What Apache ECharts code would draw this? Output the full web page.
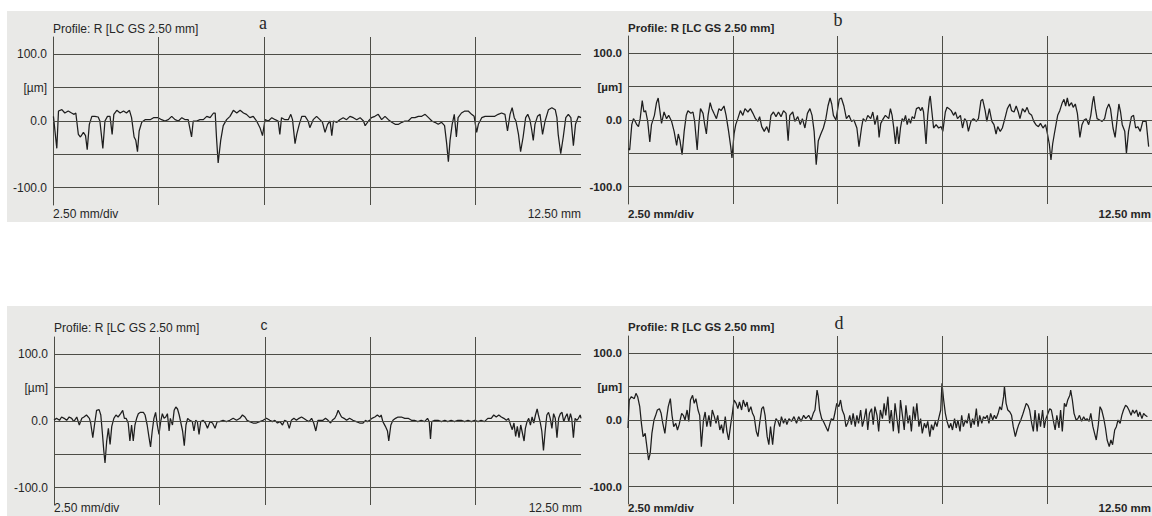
<!DOCTYPE html>
<html><head><meta charset="utf-8">
<script src="https://cdn.jsdelivr.net/npm/echarts@6/dist/echarts.min.js"></script>
<style>html,body{margin:0;padding:0;background:#ffffff}#c{width:1152px;height:516px}</style>
</head><body><div id="c"></div>
<script>
// ---- axis / tick definitions ----
const xRange = [0, 12.5];            // mm
const yRange = [-126, 126];          // µm
const yTickValues = [100, 50, 0, -100];
const yTickLabels = ['100.0', '[µm]', '0.0', '-100.0'];
const gridYValues = [100, 50, 0, -50, -100];
const gridXValues = [2.5, 5, 7.5, 10];
const panelLetters = ['a', 'b', 'c', 'd'];
const profileTitle = 'Profile: R [LC GS 2.50 mm]';
const scaleLeftLabel = '2.50 mm/div';
const scaleRightLabel = '12.50 mm';

// ---- profile data [mm, µm] ----
const profileA = [[0.01,7],[0.09,-41],[0.13,15],[0.21,17],[0.28,12],[0.36,15],[0.44,12],[0.50,10],[0.54,12],[0.60,-20],[0.65,-24],[0.72,-17],[0.77,-22],[0.81,-43],[0.86,-5],[0.92,7],[0.99,7],[1.07,6],[1.11,0],[1.18,-41],[1.23,0],[1.29,7],[1.35,7],[1.40,-20],[1.44,10],[1.51,16],[1.59,12],[1.67,15],[1.74,12],[1.81,16],[1.86,5],[1.92,-24],[1.96,-29],[2.00,-46],[2.04,-15],[2.10,-2],[2.18,2],[2.30,2],[2.38,5],[2.49,5],[2.57,2],[2.65,0],[2.73,2],[2.81,7],[2.89,2],[2.97,0],[3.05,5],[3.13,2],[3.20,2],[3.28,-24],[3.32,0],[3.40,0],[3.48,2],[3.56,2],[3.64,7],[3.72,5],[3.80,12],[3.84,12],[3.87,-24],[3.91,-63],[3.97,-29],[4.03,-7],[4.11,2],[4.19,7],[4.27,16],[4.35,12],[4.43,16],[4.51,12],[4.58,10],[4.66,5],[4.74,7],[4.82,0],[4.90,-10],[4.96,-22],[5.02,2],[5.10,0],[5.18,5],[5.26,2],[5.33,0],[5.37,-20],[5.41,5],[5.49,2],[5.57,2],[5.63,10],[5.67,2],[5.73,-34],[5.77,-20],[5.83,-5],[5.89,7],[5.97,7],[6.04,0],[6.08,-10],[6.16,2],[6.24,7],[6.32,2],[6.38,-2],[6.44,-17],[6.50,-5],[6.56,0],[6.60,-22],[6.64,0],[6.72,-2],[6.79,2],[6.87,5],[6.95,2],[7.03,7],[7.11,5],[7.19,2],[7.27,5],[7.35,0],[7.39,-7],[7.47,0],[7.54,5],[7.62,7],[7.70,10],[7.78,2],[7.86,7],[7.94,2],[8.02,-2],[8.10,-5],[8.18,-5],[8.26,-2],[8.33,0],[8.41,0],[8.49,5],[8.57,5],[8.65,7],[8.73,7],[8.81,10],[8.89,5],[8.97,0],[9.04,-2],[9.12,-5],[9.20,-2],[9.27,-7],[9.32,-34],[9.36,-61],[9.40,-29],[9.45,-5],[9.50,10],[9.55,-24],[9.59,5],[9.67,12],[9.75,15],[9.83,15],[9.91,10],[9.97,7],[10.03,-17],[10.07,-5],[10.15,5],[10.23,7],[10.31,7],[10.39,7],[10.46,7],[10.54,10],[10.62,12],[10.70,10],[10.76,-15],[10.82,10],[10.87,20],[10.92,5],[10.96,0],[11.02,-20],[11.07,-46],[11.13,-24],[11.19,5],[11.24,10],[11.29,2],[11.33,-12],[11.37,-29],[11.41,-5],[11.47,7],[11.53,10],[11.59,-20],[11.65,0],[11.73,17],[11.81,20],[11.89,17],[11.93,5],[11.96,-20],[12.02,-49],[12.08,-24],[12.14,5],[12.20,10],[12.26,5],[12.32,-37],[12.37,-5],[12.44,7],[12.50,5]];

const profileB = [[0.01,-43],[0.04,-45],[0.09,-7],[0.13,2],[0.17,-2],[0.21,-7],[0.25,-10],[0.29,2],[0.34,29],[0.38,12],[0.42,14],[0.47,-2],[0.52,-33],[0.56,-7],[0.63,7],[0.68,26],[0.72,33],[0.76,14],[0.80,-5],[0.86,12],[0.92,2],[0.97,7],[1.04,-2],[1.10,-17],[1.16,-38],[1.20,-21],[1.24,-31],[1.29,-52],[1.34,-17],[1.39,7],[1.43,14],[1.50,10],[1.55,12],[1.59,-2],[1.65,-45],[1.69,-7],[1.73,17],[1.79,10],[1.83,-7],[1.87,-21],[1.91,7],[1.96,26],[2.00,17],[2.05,10],[2.11,2],[2.17,17],[2.22,14],[2.29,21],[2.34,7],[2.40,-17],[2.45,-40],[2.48,-57],[2.53,-21],[2.57,-7],[2.62,2],[2.68,14],[2.74,7],[2.79,17],[2.86,12],[2.92,17],[2.98,10],[3.04,2],[3.10,-2],[3.14,5],[3.19,-10],[3.25,-17],[3.31,-10],[3.36,-19],[3.41,7],[3.47,12],[3.53,5],[3.59,12],[3.65,5],[3.71,14],[3.77,10],[3.82,-31],[3.86,7],[3.93,12],[3.98,-2],[4.05,5],[4.11,-7],[4.16,2],[4.22,-12],[4.28,10],[4.34,17],[4.39,7],[4.44,-17],[4.49,-67],[4.54,-31],[4.60,-21],[4.66,-12],[4.72,2],[4.77,21],[4.82,33],[4.86,24],[4.90,7],[4.96,0],[5.04,31],[5.09,33],[5.15,21],[5.21,2],[5.27,7],[5.33,-2],[5.39,0],[5.46,-12],[5.51,-40],[5.57,-12],[5.61,2],[5.67,-2],[5.72,7],[5.79,2],[5.84,12],[5.89,-7],[5.95,7],[5.99,-26],[6.03,-5],[6.09,2],[6.14,7],[6.22,2],[6.26,17],[6.30,7],[6.34,-12],[6.38,-36],[6.42,-10],[6.46,-36],[6.50,-12],[6.54,2],[6.58,-2],[6.62,7],[6.66,-7],[6.70,2],[6.74,-5],[6.78,5],[6.83,2],[6.88,17],[6.94,19],[6.98,14],[7.02,19],[7.05,12],[7.11,-36],[7.15,7],[7.19,31],[7.21,36],[7.25,12],[7.29,-12],[7.35,-7],[7.41,-12],[7.47,-10],[7.51,-17],[7.57,12],[7.61,19],[7.66,17],[7.71,14],[7.77,7],[7.81,12],[7.86,2],[7.93,7],[7.98,-12],[8.03,2],[8.08,-2],[8.12,-17],[8.18,-2],[8.24,2],[8.31,-2],[8.36,2],[8.42,29],[8.46,31],[8.52,14],[8.56,-2],[8.62,17],[8.68,-2],[8.73,-7],[8.78,-21],[8.82,-10],[8.88,-17],[8.93,-12],[8.99,2],[9.05,17],[9.11,24],[9.15,14],[9.21,12],[9.26,21],[9.31,12],[9.35,2],[9.41,17],[9.47,12],[9.52,19],[9.57,10],[9.63,7],[9.68,-2],[9.73,-7],[9.79,-10],[9.84,-5],[9.90,-12],[9.96,-7],[10.00,-19],[10.05,-36],[10.09,-60],[10.13,-36],[10.17,-21],[10.21,-7],[10.25,7],[10.30,14],[10.36,26],[10.40,31],[10.44,21],[10.48,33],[10.52,21],[10.58,26],[10.62,19],[10.67,24],[10.72,10],[10.78,-26],[10.83,-7],[10.88,0],[10.93,2],[10.99,-7],[11.04,7],[11.08,26],[11.11,36],[11.15,17],[11.19,2],[11.25,0],[11.31,-2],[11.37,2],[11.42,17],[11.47,24],[11.51,17],[11.57,-12],[11.62,-26],[11.67,2],[11.71,24],[11.75,12],[11.79,-7],[11.85,-17],[11.89,-50],[11.94,-17],[12.01,5],[12.06,7],[12.11,-12],[12.16,-10],[12.22,-17],[12.28,-2],[12.36,-2],[12.42,-40]];

const profileC = [[0.00,1],[0.06,4],[0.13,1],[0.18,6],[0.24,4],[0.30,1],[0.36,6],[0.42,4],[0.47,-1],[0.54,6],[0.60,-6],[0.66,4],[0.71,6],[0.77,9],[0.84,4],[0.87,-3],[0.92,-25],[0.96,-6],[1.01,16],[1.07,17],[1.11,9],[1.15,-20],[1.18,-44],[1.21,-63],[1.25,-30],[1.29,-11],[1.33,-35],[1.37,-8],[1.42,4],[1.47,9],[1.52,6],[1.58,11],[1.63,16],[1.67,4],[1.71,4],[1.76,-3],[1.80,-30],[1.84,-6],[1.88,-30],[1.92,-6],[1.96,4],[2.00,11],[2.05,13],[2.12,13],[2.16,9],[2.21,-6],[2.25,-23],[2.29,-39],[2.33,-15],[2.37,4],[2.41,13],[2.45,-6],[2.49,-20],[2.53,-1],[2.57,11],[2.61,4],[2.65,6],[2.69,11],[2.73,-15],[2.76,4],[2.81,-6],[2.85,16],[2.89,21],[2.93,18],[2.97,9],[3.01,-3],[3.05,-15],[3.09,-37],[3.13,-6],[3.17,4],[3.22,1],[3.28,-1],[3.32,-15],[3.36,1],[3.40,-1],[3.44,-20],[3.48,-1],[3.54,1],[3.59,-3],[3.64,-11],[3.70,-1],[3.76,-3],[3.82,-11],[3.87,-1],[3.93,-1],[4.01,1],[4.09,-1],[4.17,1],[4.25,4],[4.33,1],[4.41,4],[4.47,9],[4.53,6],[4.58,1],[4.64,-1],[4.72,-3],[4.80,-3],[4.88,-1],[4.96,1],[5.04,4],[5.12,1],[5.18,-1],[5.24,1],[5.30,-3],[5.36,-1],[5.42,-6],[5.47,1],[5.53,-1],[5.58,-11],[5.63,1],[5.69,4],[5.75,1],[5.81,4],[5.87,6],[5.92,4],[5.99,1],[6.05,-1],[6.11,4],[6.16,-3],[6.21,-15],[6.26,1],[6.38,1],[6.44,4],[6.50,1],[6.56,-3],[6.60,1],[6.66,4],[6.70,9],[6.74,16],[6.78,11],[6.82,6],[6.88,4],[6.94,1],[7.01,4],[7.09,1],[7.17,-1],[7.25,-3],[7.33,-3],[7.39,1],[7.43,-1],[7.49,1],[7.54,4],[7.61,6],[7.67,9],[7.73,6],[7.76,9],[7.80,-1],[7.86,-8],[7.91,-15],[7.94,-30],[7.99,-6],[8.04,1],[8.10,4],[8.16,6],[8.24,6],[8.32,4],[8.40,4],[8.48,1],[8.55,1],[8.63,-1],[8.71,1],[8.79,-1],[8.86,4],[8.90,-1],[8.93,-27],[8.96,-1],[9.03,1],[9.11,1],[9.19,-1],[9.27,1],[9.34,-1],[9.42,1],[9.50,-1],[9.58,1],[9.66,1],[9.74,-1],[9.82,1],[9.90,-1],[9.98,1],[10.06,-1],[10.13,1],[10.21,-1],[10.29,4],[10.37,4],[10.43,9],[10.49,6],[10.55,9],[10.61,6],[10.67,4],[10.73,1],[10.78,4],[10.83,-6],[10.87,-13],[10.91,-3],[10.95,-23],[10.99,-8],[11.03,-25],[11.07,-6],[11.11,-18],[11.15,-30],[11.18,-11],[11.22,-1],[11.26,4],[11.30,-6],[11.34,6],[11.38,-3],[11.42,9],[11.46,18],[11.49,9],[11.53,-1],[11.57,-15],[11.61,-44],[11.65,-15],[11.69,9],[11.73,13],[11.77,4],[11.81,-11],[11.85,11],[11.89,4],[11.93,-25],[11.97,4],[12.01,11],[12.05,13],[12.09,-1],[12.13,6],[12.17,11],[12.21,-1],[12.25,11],[12.28,4],[12.32,-25],[12.36,4],[12.40,1],[12.44,4],[12.48,9],[12.50,4]];

const profileD = [[0.00,-12],[0.03,30],[0.08,35],[0.15,32],[0.19,40],[0.23,35],[0.28,20],[0.32,-5],[0.36,-25],[0.41,-20],[0.45,-40],[0.49,-60],[0.53,-50],[0.57,-20],[0.62,0],[0.66,7],[0.70,15],[0.75,17],[0.79,10],[0.83,-5],[0.88,-20],[0.92,2],[0.96,20],[1.01,32],[1.05,7],[1.09,-10],[1.14,-5],[1.18,-15],[1.22,-7],[1.28,10],[1.32,7],[1.36,0],[1.41,15],[1.45,-2],[1.49,30],[1.54,37],[1.58,25],[1.62,32],[1.67,15],[1.71,7],[1.75,-40],[1.80,0],[1.84,12],[1.88,-10],[1.93,7],[1.97,-10],[2.01,15],[2.06,5],[2.10,-5],[2.14,7],[2.19,-15],[2.23,-7],[2.27,-20],[2.32,5],[2.36,-17],[2.40,-30],[2.45,-7],[2.49,10],[2.53,30],[2.58,25],[2.62,17],[2.66,27],[2.71,15],[2.75,30],[2.80,20],[2.84,27],[2.88,12],[2.93,20],[2.97,10],[3.01,5],[3.06,-17],[3.10,-25],[3.14,-5],[3.19,17],[3.23,20],[3.27,7],[3.32,-25],[3.36,-37],[3.40,-10],[3.45,-37],[3.49,-10],[3.53,2],[3.58,-2],[3.62,-10],[3.66,5],[3.71,-5],[3.75,2],[3.79,-7],[3.84,2],[3.90,-2],[3.96,5],[4.02,-5],[4.07,5],[4.13,-2],[4.19,7],[4.24,2],[4.31,7],[4.37,0],[4.42,10],[4.46,15],[4.51,45],[4.54,35],[4.57,15],[4.62,2],[4.66,-2],[4.72,-10],[4.77,-17],[4.81,-7],[4.85,2],[4.90,0],[4.94,12],[4.98,25],[5.03,20],[5.07,30],[5.11,15],[5.16,7],[5.20,-10],[5.24,-5],[5.29,7],[5.33,-7],[5.37,10],[5.42,-10],[5.46,7],[5.50,-5],[5.55,15],[5.59,-10],[5.63,0],[5.68,17],[5.72,-15],[5.76,10],[5.81,17],[5.85,-7],[5.89,20],[5.94,7],[5.98,-17],[6.02,15],[6.07,2],[6.11,25],[6.15,7],[6.20,35],[6.24,-5],[6.28,15],[6.33,-17],[6.37,25],[6.41,5],[6.46,-20],[6.50,30],[6.55,5],[6.59,-15],[6.63,22],[6.68,-5],[6.72,7],[6.76,-17],[6.81,20],[6.85,0],[6.89,25],[6.94,-10],[6.98,2],[7.02,-20],[7.07,-5],[7.11,-12],[7.15,-2],[7.20,-25],[7.24,-7],[7.28,-15],[7.33,-2],[7.37,-10],[7.41,2],[7.46,15],[7.49,55],[7.53,30],[7.57,10],[7.61,-2],[7.66,-12],[7.70,-5],[7.74,-15],[7.79,2],[7.83,-12],[7.87,0],[7.92,-17],[7.96,7],[8.00,-10],[8.05,0],[8.09,-5],[8.13,10],[8.18,-12],[8.22,2],[8.26,-7],[8.31,17],[8.35,-10],[8.39,7],[8.44,-5],[8.48,5],[8.52,2],[8.57,7],[8.61,-5],[8.65,10],[8.70,0],[8.74,7],[8.78,2],[8.83,10],[8.87,20],[8.91,15],[8.96,35],[8.98,50],[9.02,25],[9.06,15],[9.11,12],[9.15,7],[9.19,-10],[9.24,-25],[9.28,-15],[9.32,-7],[9.37,0],[9.41,7],[9.45,15],[9.50,25],[9.54,22],[9.58,15],[9.63,-5],[9.67,-17],[9.71,15],[9.76,-17],[9.80,10],[9.84,-10],[9.89,15],[9.93,-12],[9.97,2],[10.02,10],[10.06,17],[10.10,15],[10.15,-2],[10.19,-15],[10.23,7],[10.28,-12],[10.32,15],[10.36,-17],[10.41,25],[10.45,20],[10.49,30],[10.54,37],[10.56,45],[10.60,30],[10.64,10],[10.69,0],[10.73,2],[10.77,7],[10.82,-2],[10.87,5],[10.91,0],[10.95,2],[11.00,-2],[11.04,10],[11.09,-10],[11.13,-20],[11.17,-30],[11.22,-7],[11.26,20],[11.30,15],[11.35,2],[11.39,-12],[11.43,-30],[11.48,-40],[11.52,-30],[11.56,-37],[11.61,-15],[11.65,-10],[11.69,0],[11.74,-5],[11.78,7],[11.82,15],[11.87,22],[11.91,20],[11.95,15],[12.00,7],[12.04,15],[12.08,10],[12.13,15],[12.17,5],[12.21,12],[12.26,2],[12.30,10],[12.34,7],[12.39,5]];

const profiles = [profileA, profileB, profileC, profileD];

// ---- layout (pixels) ----
const FONT = '"Liberation Sans", Arial, sans-serif';
const SERIF = '"Liberation Serif", "Times New Roman", serif';
const layouts = [
  {left: 53,  top: 37,  width: 528, bold: false, titleY: 29,  letterX: 263, letterY: 23,  letterFont: SERIF, letterSize: 18, footY: 214, rightX: 581,  bg: [7, 11, 576, 211]},
  {left: 628, top: 36,  width: 525, bold: true,  titleY: 28,  letterX: 838, letterY: 20,  letterFont: SERIF, letterSize: 18, footY: 214, rightX: 1151, bg: [583, 11, 569, 211]},
  {left: 54,  top: 337, width: 527, bold: false, titleY: 328, letterX: 264, letterY: 325, letterFont: FONT,  letterSize: 14, footY: 508, rightX: 582,  bg: [7, 306, 576, 210]},
  {left: 628, top: 336, width: 528, bold: true,  titleY: 327, letterX: 839, letterY: 323, letterFont: SERIF, letterSize: 18, footY: 508, rightX: 1151, bg: [583, 306, 569, 210]}
];
const PLOT_H = 168;
const GRID_COLOR = '#4d4d46';
const TEXT_COLOR = '#262626';
const LINE_COLOR = '#1e1e1e';

const chart = echarts.init(document.getElementById('c'), null, {renderer: 'svg', width: 1152, height: 516});

const grids = [], xAxes = [], yAxes = [], series = [], graphics = [];
layouts.forEach((L, i) => {
  grids.push({left: L.left, top: L.top, width: L.width, height: PLOT_H, show: false});
  xAxes.push({gridIndex: i, type: 'value', min: xRange[0], max: xRange[1], show: false});
  yAxes.push({
    gridIndex: i, type: 'value', min: yRange[0], max: yRange[1],
    axisLine: {show: true, onZero: false, lineStyle: {color: GRID_COLOR, width: 1}},
    axisTick: {show: false}, splitLine: {show: false},
    axisLabel: {
      show: true, customValues: yTickValues, margin: 6,
      formatter: v => { const k = yTickValues.indexOf(v); return k >= 0 ? yTickLabels[k] : ''; },
      color: TEXT_COLOR, fontSize: L.bold ? 11.5 : 12, fontWeight: L.bold ? 'bold' : 'normal', fontFamily: FONT
    }
  });
  series.push({
    type: 'line', xAxisIndex: i, yAxisIndex: i, data: [], silent: true, z: 1, animation: false,
    markLine: {
      silent: true, symbol: ['none', 'none'], animation: false, label: {show: false},
      lineStyle: {color: GRID_COLOR, width: 1, type: 'solid'},
      emphasis: {disabled: true},
      data: [...gridYValues.map(v => ({yAxis: v})), ...gridXValues.map(v => ({xAxis: v}))]
    }
  });
  series.push({
    type: 'line', xAxisIndex: i, yAxisIndex: i, data: profiles[i], z: 3,
    showSymbol: false, symbol: 'none', animation: false, silent: true,
    lineStyle: {color: LINE_COLOR, width: 1.25}, emphasis: {disabled: true}
  });
  const fw = L.bold ? 'bold' : 'normal';
  const fs = L.bold ? 11.5 : 12;
  graphics.push({type: 'rect', z: -100, silent: true, shape: {x: L.bg[0], y: L.bg[1], width: L.bg[2], height: L.bg[3]}, style: {fill: '#e9e9e7'}});
  const txt = (x, y, text, align, font) => ({type: 'text', z: 100, silent: true, x, y,
    style: {text, font, fill: TEXT_COLOR, align, verticalAlign: 'middle', textAlign: align, textVerticalAlign: 'middle'}});
  graphics.push(txt(L.left, L.titleY, profileTitle, 'left', `${fw} ${fs}px ${FONT}`));
  graphics.push(txt(L.letterX, L.letterY, panelLetters[i], 'center', `normal ${L.letterSize}px ${L.letterFont}`));
  graphics.push(txt(L.left, L.footY, scaleLeftLabel, 'left', `${fw} ${fs}px ${FONT}`));
  graphics.push(txt(L.rightX, L.footY, scaleRightLabel, 'right', `${fw} ${fs}px ${FONT}`));
});

chart.setOption({
  backgroundColor: '#ffffff',
  animation: false,
  grid: grids, xAxis: xAxes, yAxis: yAxes, series,
  graphic: {elements: graphics}
});
</script>
</body></html>
